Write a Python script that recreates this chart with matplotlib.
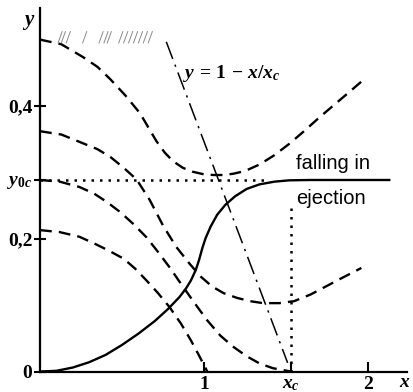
import numpy as np
import matplotlib
matplotlib.use('Agg')
import matplotlib.pyplot as plt

plt.rcParams['mathtext.fontset'] = 'custom'
plt.rcParams['mathtext.rm'] = 'Liberation Serif:bold'
plt.rcParams['mathtext.it'] = 'Liberation Serif:italic:bold'
plt.rcParams['mathtext.bf'] = 'Liberation Serif:bold'

# critical values
x_c = 1.53
y_0c = 0.2885

# trajectory starting at y = 0.5 (upper, turns back up)
xa = [0, 0.13, 0.26, 0.35, 0.43, 0.52, 0.61, 0.66, 0.71, 0.76, 0.81, 0.87, 0.93, 1.0, 1.06,
      1.12, 1.18, 1.25, 1.34, 1.43, 1.52, 1.61, 1.70, 1.80, 1.90, 1.98]
ya = [0.500, 0.493, 0.474, 0.459, 0.440, 0.416, 0.389, 0.368, 0.347, 0.330, 0.317, 0.307,
      0.301, 0.297, 0.296, 0.296, 0.298, 0.302, 0.312, 0.326, 0.343, 0.362, 0.382, 0.403,
      0.424, 0.441]

# trajectory starting at y = 0.36 (dips, then rises)
xb = [0, 0.13, 0.26, 0.35, 0.43, 0.51, 0.59, 0.67, 0.75, 0.83, 0.91, 0.98, 1.05, 1.12,
      1.20, 1.28, 1.36, 1.46, 1.55, 1.65, 1.75, 1.85, 1.96]
yb = [0.362, 0.357, 0.344, 0.335, 0.323, 0.307, 0.289, 0.258, 0.220, 0.188, 0.163, 0.143,
      0.128, 0.118, 0.111, 0.106, 0.103, 0.103, 0.106, 0.116, 0.129, 0.142, 0.156]

# separatrix from y_0c down to x_c
xs = [0, 0.12, 0.24, 0.33, 0.41, 0.49, 0.57, 0.65, 0.72, 0.79, 0.86, 0.94, 1.02, 1.10,
      1.18, 1.26, 1.34, 1.42, 1.53]
ys = [0.2885, 0.286, 0.278, 0.268, 0.255, 0.240, 0.222, 0.202, 0.180, 0.157, 0.132, 0.104,
      0.077, 0.054, 0.037, 0.023, 0.012, 0.005, 0.0]

# trajectory starting at y = 0.21, hits the axis at x = 1
xd = [0, 0.12, 0.24, 0.33, 0.42, 0.51, 0.58, 0.65, 0.72, 0.79, 0.86, 0.92, 0.97, 1.02]
yd = [0.213, 0.210, 0.203, 0.193, 0.182, 0.170, 0.155, 0.137, 0.118, 0.097, 0.072, 0.047,
      0.024, 0.0]

# solid curve rising to y_0c
xo = [0, 0.1, 0.2, 0.3, 0.4, 0.5, 0.6, 0.7, 0.78, 0.85, 0.89, 0.92, 0.95, 0.97, 0.99,
      1.01, 1.04, 1.08, 1.13, 1.19, 1.26, 1.34, 1.43, 1.52, 1.65, 1.8, 2.0, 2.13]
yo = [0, 0.001, 0.006, 0.014, 0.025, 0.040, 0.057, 0.076, 0.094, 0.112, 0.125, 0.137,
      0.153, 0.168, 0.186, 0.201, 0.218, 0.236, 0.251, 0.264, 0.275, 0.282, 0.286, 0.288,
      0.2885, 0.2885, 0.2885, 0.2885]

# line y = 1 - x/x_c
xl = np.array([0.77, 1.51])
yl = 1 - xl / x_c

# hatch marks along the upper bound
hatch_x = [0.11, 0.13, 0.16, 0.26, 0.36, 0.39, 0.41, 0.48, 0.51, 0.54, 0.57, 0.60, 0.63, 0.66]

fig = plt.figure(figsize=(4.13, 3.92), dpi=100)
ax = fig.add_axes([40/413, 20.5/392, 367/413, 363.5/392])
ax.set_xlim(0, 2.238)
ax.set_ylim(0, 0.5476)
ax.patch.set_alpha(0)

dash = (5, 3)
ax.plot(xa, ya, color='k', lw=1.7, dashes=dash)
ax.plot(xb, yb, color='k', lw=1.7, dashes=dash)
ax.plot(xs, ys, color='k', lw=1.7, dashes=dash)
ax.plot(xd, yd, color='k', lw=1.7, dashes=dash)
ax.plot(xo, yo, color='k', lw=1.7)
ax.plot(xl, yl, color='k', lw=1.1, linestyle=(0, (12, 4, 1.5, 4)))

# dotted guides at y_0c and x_c
ax.plot([0, 1.38], [y_0c, y_0c], color='k', lw=1.8, linestyle=(0, (1, 2.4)))
ax.plot([x_c, x_c], [0, 0.248], color='k', lw=1.8, linestyle=(0, (1, 2.4)))

for hx in hatch_x:
    ax.plot([hx, hx + 0.025], [0.495, 0.512], color='#8a8a8a', lw=0.7, clip_on=False)

for side in ['top', 'right']:
    ax.spines[side].set_visible(False)
for side in ['left', 'bottom']:
    ax.spines[side].set_linewidth(1.6)

tfont = dict(family='Liberation Serif', weight='bold', size=14)
ax.set_yticks([0, 0.2, y_0c, 0.4])
ax.set_yticklabels(['0', '0,2', r'$y_{0c}$', '0,4'], fontdict=tfont)
ax.set_xticks([1, x_c, 2])
ax.set_xticklabels(['1', r'$x_c$', '2'], fontdict=tfont)
ax.tick_params(axis='y', direction='inout', length=9, width=1.5, pad=1)
ax.tick_params(axis='x', direction='in', length=7, width=1.5, pad=3)

ax.text(-0.067, 0.527, r'$y$', fontsize=15, ha='center', va='center', clip_on=False)
ax.text(2.222, -0.015, r'$x$', fontsize=14, ha='center', va='center', clip_on=False)
ax.text(0.872, 0.442, r'$y\,=\,1\,-\,x/x_c$', fontsize=14, ha='left', va='baseline')

sfont = dict(family='Liberation Sans', size=14.5)
ax.text(1.56, 0.305, 'falling in', fontdict=sfont, ha='left', va='baseline')
ax.text(1.56, 0.253, 'ejection', fontdict=sfont, ha='left', va='baseline')

fig.savefig('out.png', dpi=100)
